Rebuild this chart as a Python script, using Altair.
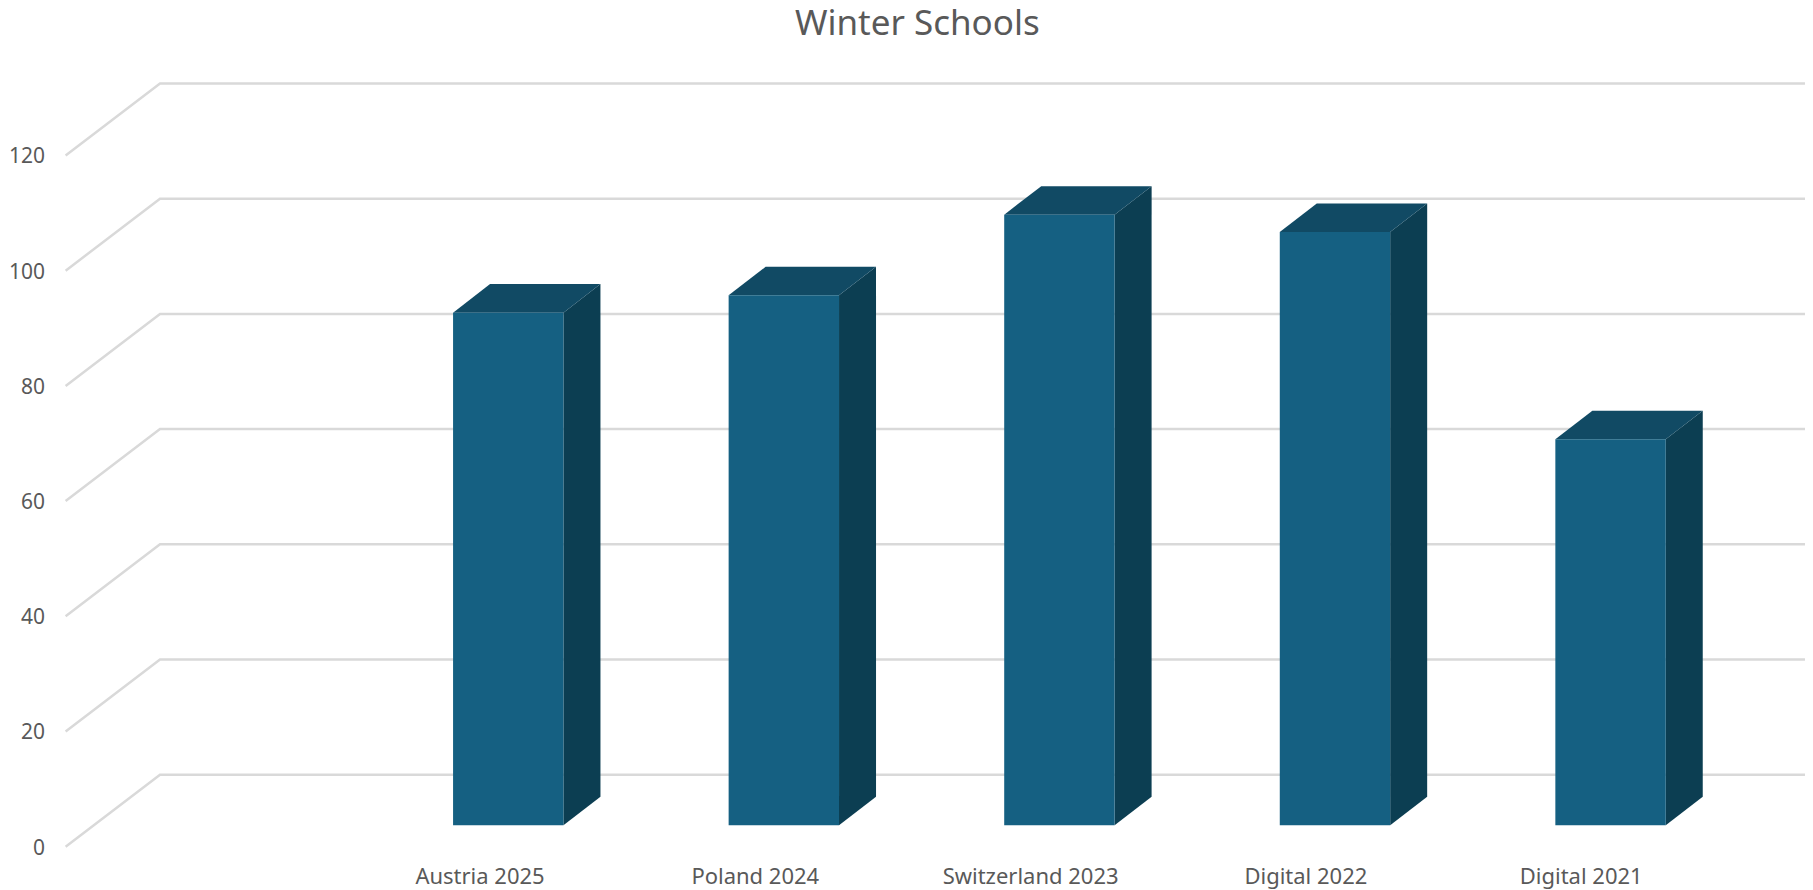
import json
import altair as alt
import pandas as pd

categories = ["Austria 2025", "Poland 2024", "Switzerland 2023", "Digital 2022", "Digital 2021"]
values = [89, 92, 106, 103, 67]
y_ticks = [0, 20, 40, 60, 80, 100, 120]

TITLE = "Winter Schools"
FONT = "Noto Sans"
TEXT = "#595959"
GRID = "#D9D9D9"
FRONT = "#156082"
TOP = "#114A64"
SIDE = "#0C3E52"

# pseudo-3D geometry in data units (x: category steps, y: value units)
X_MIN, X_MAX = -1.5034, 4.8148
WALL_X = -1.1605          # back wall
WALL_Y = 12.5             # back wall lift
BAR_STEP = 1.001
BAR_LEFT = -0.096         # front face offset from category label
BAR_W = 0.401
DEPTH_X = 0.1344
BASE_Y = 3.72             # bar foot above front floor
DEPTH_Y = 4.95

grid_rows = []
for v in y_ticks:
    grid_rows += [
        {"v": v, "o": 0, "x": X_MIN, "y": v},
        {"v": v, "o": 1, "x": WALL_X, "y": v + WALL_Y},
        {"v": v, "o": 2, "x": X_MAX, "y": v + WALL_Y},
    ]
grid_df = pd.DataFrame(grid_rows)

front_rows, side_rows, top_rows = [], [], []
for i, (c, v) in enumerate(zip(categories, values)):
    l = i * BAR_STEP + BAR_LEFT
    r = l + BAR_W
    front_rows.append({"c": c, "x": l, "x2": r, "y": BASE_Y, "y2": BASE_Y + v})
    side_rows += [
        {"c": c, "x": r, "y": BASE_Y, "y2": BASE_Y + v},
        {"c": c, "x": r + DEPTH_X, "y": BASE_Y + DEPTH_Y, "y2": BASE_Y + DEPTH_Y + v},
    ]
    top_rows += [
        {"c": c, "y": BASE_Y + v, "x": l, "x2": r},
        {"c": c, "y": BASE_Y + DEPTH_Y + v, "x": l + DEPTH_X, "x2": r + DEPTH_X},
    ]

x_scale = alt.Scale(domain=[X_MIN, X_MAX], nice=False, zero=False)
y_scale = alt.Scale(domain=[0, 136.58], nice=False, zero=False)
x_axis = alt.Axis(
    values=list(range(len(categories))),
    labelExpr=json.dumps(categories) + "[datum.value]",
    title=None, grid=False, domain=False, ticks=False,
    labelFont=FONT, labelFontSize=22, labelColor=TEXT, labelPadding=20,
    labelOverlap=False, labelFlush=False,
)
y_axis = alt.Axis(
    values=y_ticks, title=None, grid=False, domain=False, ticks=False,
    labelFont=FONT, labelFontSize=21, labelColor=TEXT, labelPadding=21,
    labelOffset=1.5,
)

grid = alt.Chart(grid_df).mark_line(color=GRID, strokeWidth=2.5).encode(
    x=alt.X("x:Q", scale=x_scale, axis=x_axis),
    y=alt.Y("y:Q", scale=y_scale, axis=y_axis),
    detail="v:N",
    order="o:Q",
)
side = alt.Chart(pd.DataFrame(side_rows)).mark_area(color=SIDE).encode(
    x=alt.X("x:Q", scale=x_scale),
    y=alt.Y("y:Q", scale=y_scale, stack=None),
    y2="y2:Q",
    detail="c:N",
)
top = alt.Chart(pd.DataFrame(top_rows)).mark_area(color=TOP, orient="horizontal").encode(
    y=alt.Y("y:Q", scale=y_scale),
    x=alt.X("x:Q", scale=x_scale, stack=None),
    x2="x2:Q",
    detail="c:N",
)
front = alt.Chart(pd.DataFrame(front_rows)).mark_rect(color=FRONT).encode(
    x=alt.X("x:Q", scale=x_scale),
    x2="x2:Q",
    y=alt.Y("y:Q", scale=y_scale),
    y2="y2:Q",
)

chart = (
    alt.layer(grid, side, top, front)
    .properties(
        width=1739.4,
        height=786.7,
        background="white",
        title=alt.TitleParams(
            TITLE, font=FONT, fontSize=35, fontWeight="normal", color=TEXT,
            anchor="middle", dx=-18, offset=18,
        ),
        padding={"left": 57.6, "top": 52, "right": 0, "bottom": 43},
        autosize=alt.AutoSizeParams(type="none"),
    )
    .configure_view(stroke=None)
)

chart.save("out.html", embed_options={"renderer": "svg", "actions": False})
